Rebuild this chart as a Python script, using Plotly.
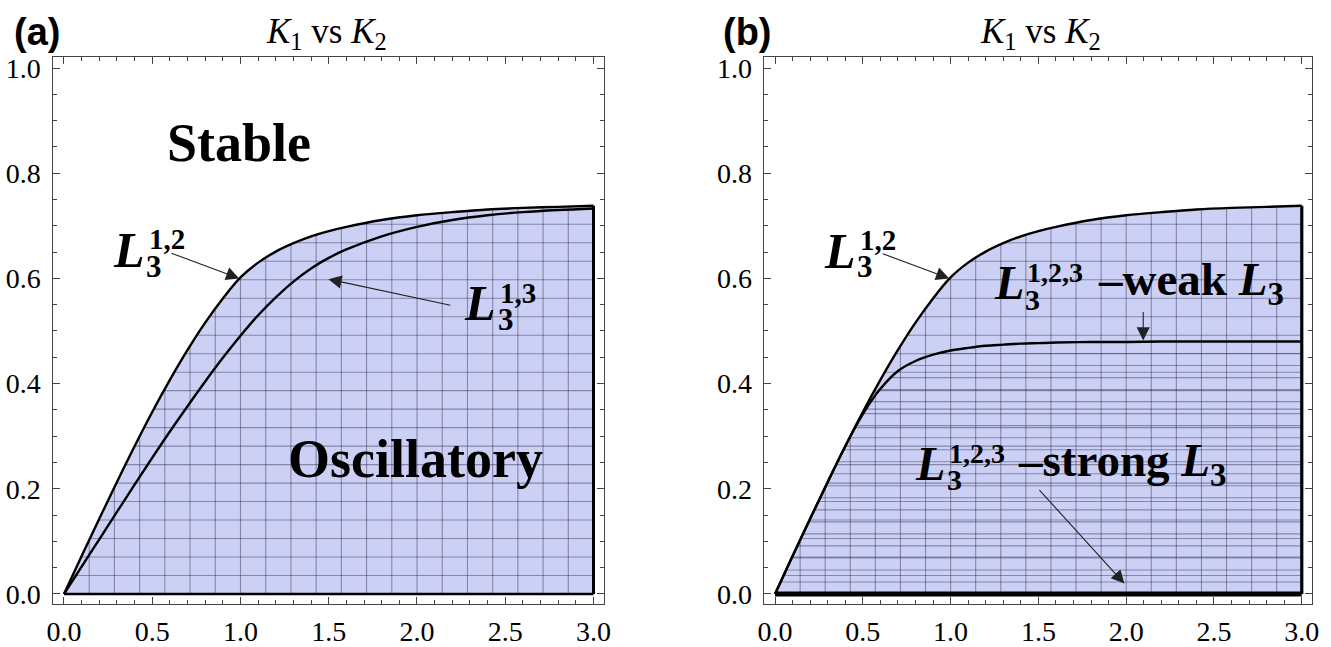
import numpy as np
import plotly.graph_objects as go

# ---------------- data ----------------
k1 = [0, 0.1, 0.2, 0.3, 0.4, 0.5, 0.6, 0.7, 0.8, 0.9, 1.0, 1.1, 1.2, 1.3, 1.4,
      1.5, 1.6, 1.8, 2.0, 2.2, 2.4, 2.6, 2.8, 3.0]
l3_12 = [0, 0.072, 0.143, 0.213, 0.281, 0.346, 0.407, 0.464, 0.516, 0.562, 0.602, 0.630,
         0.651, 0.667, 0.680, 0.690, 0.698, 0.711, 0.720, 0.726, 0.731, 0.734, 0.736, 0.738]
l3_13 = [0, 0.052, 0.104, 0.156, 0.208, 0.259, 0.309, 0.357, 0.404, 0.449, 0.491, 0.530,
         0.564, 0.594, 0.619, 0.639, 0.655, 0.680, 0.698, 0.711, 0.720, 0.726, 0.730, 0.733]
l3_weak = [0, 0.072, 0.143, 0.213, 0.281, 0.342, 0.390, 0.424, 0.443, 0.455, 0.463, 0.468,
           0.472, 0.474, 0.476, 0.477, 0.478, 0.479, 0.479, 0.48, 0.48, 0.48, 0.48, 0.48]
strong_x = [0, 3.0]
strong_y = [0, 0]

x_ticks = [0.0, 0.5, 1.0, 1.5, 2.0, 2.5, 3.0]
y_ticks = [0.0, 0.2, 0.4, 0.6, 0.8, 1.0]
n_mesh = 21

FILL = "rgb(203,208,244)"
MESH = "rgba(25,25,60,0.40)"
SERIF = "Liberation Serif, Times New Roman, serif"
SANS = "Liberation Sans, Arial, sans-serif"

k1a = np.array(k1)


def mesh_traces(upper, xref, yref):
    up = np.array(upper)
    xs, ys = [], []
    for k in range(1, n_mesh):
        xv = 3.0 * k / n_mesh
        xs += [xv, xv, None]
        ys += [0, float(np.interp(xv, k1a, up)), None]
    ymax = up.max()
    for j in range(1, n_mesh):
        yv = ymax * j / n_mesh
        xstart = float(np.interp(yv, up, k1a))
        xs += [xstart, k1a[-1], None]
        ys += [yv, yv, None]
    return go.Scatter(x=xs, y=ys, mode="lines", line=dict(color=MESH, width=1.1),
                      hoverinfo="skip", showlegend=False, xaxis=xref, yaxis=yref)


def weak_mesh(xref, yref):
    up = np.array(l3_weak)
    xs, ys = [], []
    ymax = up.max()
    for j in range(1, n_mesh):
        yv = ymax * j / n_mesh
        xstart = float(np.interp(yv, up[:19], k1a[:19]))
        xs += [xstart, k1a[-1], None]
        ys += [yv, yv, None]
    return go.Scatter(x=xs, y=ys, mode="lines", line=dict(color=MESH, width=1.1),
                      hoverinfo="skip", showlegend=False, xaxis=xref, yaxis=yref)


fig = go.Figure()

for xr, yr in (("x", "y"), ("x2", "y2")):
    fig.add_trace(go.Scatter(x=k1, y=l3_12, mode="lines", fill="tozeroy",
                             fillcolor=FILL, line=dict(width=0, color=FILL, shape="spline"),
                             hoverinfo="skip", showlegend=False, xaxis=xr, yaxis=yr))
    fig.add_trace(mesh_traces(l3_12, xr, yr))

fig.add_trace(weak_mesh("x2", "y2"))

# boundary lines panel (a)
fig.add_trace(go.Scatter(x=k1, y=l3_12, mode="lines", line=dict(color="black", width=2.4, shape="spline"),
                         showlegend=False, xaxis="x", yaxis="y"))
fig.add_trace(go.Scatter(x=k1, y=l3_13, mode="lines", line=dict(color="black", width=2.4, shape="spline"),
                         showlegend=False, xaxis="x", yaxis="y"))
fig.add_trace(go.Scatter(x=strong_x, y=strong_y, mode="lines", line=dict(color="black", width=2.6),
                         showlegend=False, xaxis="x", yaxis="y"))
fig.add_trace(go.Scatter(x=[k1[-1], k1[-1]], y=[0, l3_12[-1]], mode="lines",
                         line=dict(color="black", width=3), showlegend=False, xaxis="x", yaxis="y"))

# boundary lines panel (b)
fig.add_trace(go.Scatter(x=k1, y=l3_12, mode="lines", line=dict(color="black", width=2.4, shape="spline"),
                         showlegend=False, xaxis="x2", yaxis="y2"))
fig.add_trace(go.Scatter(x=k1, y=l3_weak, mode="lines", line=dict(color="black", width=2.4, shape="spline"),
                         showlegend=False, xaxis="x2", yaxis="y2"))
fig.add_trace(go.Scatter(x=strong_x, y=strong_y, mode="lines", line=dict(color="black", width=5),
                         showlegend=False, xaxis="x2", yaxis="y2"))
fig.add_trace(go.Scatter(x=[k1[-1], k1[-1]], y=[0, l3_12[-1]], mode="lines",
                         line=dict(color="black", width=3.2), showlegend=False, xaxis="x2", yaxis="y2"))

axis_common = dict(
    showgrid=False, zeroline=False, showline=True, linecolor="#444", linewidth=1,
    mirror="ticks", ticks="inside", ticklen=7, tickcolor="#444", tickwidth=1,
    tickfont=dict(family=SERIF, size=28, color="black"), tickformat=".1f",
    automargin=False,
)
xminor = dict(dtick=0.1, tick0=0, ticks="inside", ticklen=4, tickcolor="#444")
yminor = dict(dtick=0.05, tick0=0, ticks="inside", ticklen=4, tickcolor="#444")

fig.update_layout(
    width=1331, height=647, margin=dict(l=0, r=0, t=0, b=0),
    paper_bgcolor="white", plot_bgcolor="white", showlegend=False,
    xaxis=dict(axis_common, domain=[0.04012, 0.45387], range=[-0.06, 3.06], tickvals=x_ticks,
               anchor="y", minor=xminor, ticklabelstandoff=2),
    yaxis=dict(axis_common, domain=[0.06569, 0.91113], range=[-0.02, 1.02], tickvals=y_ticks,
               anchor="x", minor=yminor, ticklabelstandoff=6),
    xaxis2=dict(axis_common, domain=[0.57438, 0.98595], range=[-0.06, 3.06], tickvals=x_ticks,
                anchor="y2", minor=xminor, ticklabelstandoff=2),
    yaxis2=dict(axis_common, domain=[0.06569, 0.91113], range=[-0.02, 1.02], tickvals=y_ticks,
                anchor="x2", minor=yminor, ticklabelstandoff=6),
)

ann = []


def txt(x, y, text, size, xr, yr, family=SERIF, xanchor="center", yanchor="middle"):
    ann.append(dict(x=x, y=y, xref=xr, yref=yr, text=text, showarrow=False,
                    font=dict(family=family, size=size, color="black"),
                    xanchor=xanchor, yanchor=yanchor))


def arrow(x0, y0, x1, y1, xr, yr):
    ann.append(dict(x=x1, y=y1, ax=x0, ay=y0, xref=xr, yref=yr, axref=xr, ayref=yr,
                    text="", showarrow=True, arrowhead=2, arrowsize=2.4, arrowwidth=1.1,
                    arrowcolor="#222"))


def lsym(xc, yc, sup, xr, yr, size=50, ssize=29, dsup=0.100, dsub=0.088):
    txt(xc, yc, "<b><i>L</i></b>", size, xr, yr)
    txt(xc + dsup, yc + 0.020, "<b>%s</b>" % sup, ssize, xr, yr, xanchor="left")
    txt(xc + dsub, yc - 0.031, "<b>3</b>", ssize + 2, xr, yr, xanchor="left")


# titles (paper coordinates, above plot areas)
title = "<i>K</i><sub>1</sub> vs <i>K</i><sub>2</sub>"
for px in (326, 1040):
    ann.append(dict(x=px / 1331, y=1 - 33 / 647, xref="paper", yref="paper", text=title,
                    showarrow=False, font=dict(family=SERIF, size=35, color="black"),
                    xanchor="center", yanchor="middle"))
# panel letters
for px, lab in ((37, "(a)"), (747, "(b)")):
    ann.append(dict(x=px / 1331, y=1 - 32 / 647, xref="paper", yref="paper", text="<b>%s</b>" % lab,
                    showarrow=False, font=dict(family=SANS, size=38, color="black"),
                    xanchor="center", yanchor="middle"))

# panel (a) texts
txt(0.99, 0.857, "<b>Stable</b>", 54, "x", "y")
txt(1.99, 0.256, "<b>Oscillatory</b>", 54, "x", "y")
lsym(0.368, 0.654, "1,2", "x", "y")
arrow(0.60, 0.649, 0.993, 0.600, "x", "y")
lsym(2.357, 0.553, "1,3", "x", "y")
arrow(2.198, 0.5485, 1.498, 0.5985, "x", "y")

# panel (b) texts
lsym(0.370, 0.653, "1,2", "x2", "y2")
arrow(0.605, 0.648, 0.992, 0.600, "x2", "y2")
lsym(1.330, 0.5916, "1,2,3", "x2", "y2", size=48, ssize=28, dsup=0.094, dsub=0.085)
txt(1.828, 0.5916, "<b>\u2013weak <i>L</i><sub>3</sub></b>", 47, "x2", "y2", xanchor="left")
arrow(2.097, 0.539, 2.097, 0.482, "x2", "y2")
lsym(0.885, 0.248, "1,2,3", "x2", "y2", size=48, ssize=28, dsup=0.094, dsub=0.085)
txt(1.37, 0.248, "<b>\u2013strong <i>L</i><sub>3</sub></b>", 47, "x2", "y2", xanchor="left")
arrow(1.498, 0.2004, 1.99, 0.0197, "x2", "y2")

fig.update_layout(annotations=ann)
fig.write_html("out.html")
